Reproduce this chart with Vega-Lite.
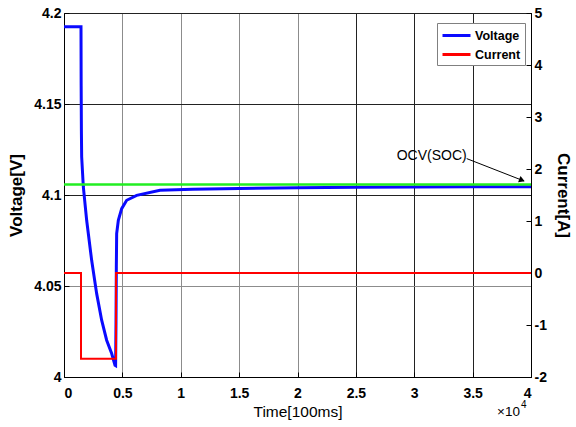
{
  "$schema": "https://vega.github.io/schema/vega-lite/v6.json",
  "width": 467,
  "height": 364,
  "autosize": {"type": "none"},
  "padding": {"left": 64, "top": 13, "right": 45, "bottom": 50},
  "background": "white",
  "config": {
    "view": {"stroke": "black", "strokeWidth": 1},
    "font": "Liberation Sans",
    "axis": {
      "domainColor": "black",
      "tickColor": "black",
      "labelColor": "black",
      "titleColor": "black",
      "labelFont": "Liberation Sans",
      "titleFont": "Liberation Sans",
      "labelFontSize": 14,
      "labelFontWeight": "bold",
      "titleFontSize": 17,
      "titleFontWeight": "bold",
      "tickSize": -5,
      "gridOpacity": 1,
      "gridWidth": 1
    },
    "legend": {
      "labelFont": "Liberation Sans",
      "labelFontSize": 12.5,
      "labelFontWeight": "bold",
      "labelColor": "black"
    }
  },
  "datasets": {
    "voltage": [
      {"t": 0, "v": 4.1925, "series": "Voltage"},
      {"t": 1456, "v": 4.1925, "series": "Voltage"},
      {"t": 1470, "v": 4.16, "series": "Voltage"},
      {"t": 1490, "v": 4.135, "series": "Voltage"},
      {"t": 1513, "v": 4.121, "series": "Voltage"},
      {"t": 1656, "v": 4.1044, "series": "Voltage"},
      {"t": 1941, "v": 4.0861, "series": "Voltage"},
      {"t": 2369, "v": 4.0641, "series": "Voltage"},
      {"t": 2798, "v": 4.0458, "series": "Voltage"},
      {"t": 3226, "v": 4.0312, "series": "Voltage"},
      {"t": 3654, "v": 4.0202, "series": "Voltage"},
      {"t": 4083, "v": 4.0129, "series": "Voltage"},
      {"t": 4369, "v": 4.0064, "series": "Voltage"},
      {"t": 4420, "v": 4.0062, "series": "Voltage"},
      {"t": 4454, "v": 4.03, "series": "Voltage"},
      {"t": 4483, "v": 4.0604, "series": "Voltage"},
      {"t": 4511, "v": 4.0788, "series": "Voltage"},
      {"t": 4654, "v": 4.0861, "series": "Voltage"},
      {"t": 4940, "v": 4.0925, "series": "Voltage"},
      {"t": 5368, "v": 4.0971, "series": "Voltage"},
      {"t": 6225, "v": 4.0998, "series": "Voltage"},
      {"t": 8223, "v": 4.1026, "series": "Voltage"},
      {"t": 11000, "v": 4.1032, "series": "Voltage"},
      {"t": 15000, "v": 4.1036, "series": "Voltage"},
      {"t": 20000, "v": 4.104, "series": "Voltage"},
      {"t": 25000, "v": 4.1042, "series": "Voltage"},
      {"t": 30000, "v": 4.1044, "series": "Voltage"},
      {"t": 35000, "v": 4.1045, "series": "Voltage"},
      {"t": 40000, "v": 4.1046, "series": "Voltage"}
    ],
    "current": [
      {"t": 0, "i": 0, "series": "Current"},
      {"t": 1456, "i": 0, "series": "Current"},
      {"t": 1456, "i": -1.65, "series": "Current"},
      {"t": 4454, "i": -1.65, "series": "Current"},
      {"t": 4454, "i": 0, "series": "Current"},
      {"t": 40000, "i": 0, "series": "Current"}
    ],
    "ocv": [
      {"t": 0, "v": 4.1058},
      {"t": 40000, "v": 4.1058}
    ],
    "arrow": [
      {"t": 34493, "v": 4.12, "t2": 39400, "v2": 4.1077}
    ],
    "arrowHead": [
      {"t": 39229, "v": 4.1081}
    ],
    "label": [
      {"t": 31494, "v": 4.12126, "text": "OCV(SOC)"}
    ],
    "exponent": [
      {"t": 39058, "v": 3.9787, "base": "×10", "power": "4"}
    ]
  },
  "layer": [
    {
      "layer": [
        {
          "data": {"name": "voltage"},
          "mark": {"type": "line", "strokeWidth": 3, "interpolate": "linear"},
          "encoding": {
            "x": {
              "field": "t",
              "type": "quantitative",
              "scale": {"domain": [0, 40000], "nice": false},
              "axis": {
                "title": "Time[100ms]",
                "titleFontWeight": "normal",
                "titleFontSize": 15.5,
                "values": [0, 5000, 10000, 15000, 20000, 25000, 30000, 35000, 40000],
                "labelExpr": "'' + datum.value / 10000",
                "labelPadding": 14,
                "titlePadding": 4,
                "grid": true,
                "gridColor": {"condition": {"test": "datum.value >= 25000", "value": "#222222"}, "value": "#8c8c8c"}
              }
            },
            "y": {
              "field": "v",
              "type": "quantitative",
              "scale": {"domain": [4, 4.2], "nice": false, "zero": false},
              "axis": {
                "title": "Voltage[V]",
                "orient": "left",
                "values": [4, 4.05, 4.1, 4.15, 4.2],
                "labelExpr": "'' + datum.value",
                "labelPadding": 8,
                "titlePadding": 8,
                "grid": true,
                "gridColor": {"condition": {"test": "datum.value >= 4.075", "value": "#222222"}, "value": "#8c8c8c"}
              }
            },
            "color": {
              "field": "series",
              "type": "nominal",
              "scale": {"domain": ["Voltage", "Current"], "range": ["#0a0aff", "#ff0000"]},
              "legend": {
                "title": null,
                "orient": "none",
                "legendX": 373,
                "legendY": 10,
                "symbolType": "M-1,0H3",
                "symbolSize": 196,
                "symbolStrokeWidth": 3,
                "strokeColor": "#808080",
                "fillColor": "white",
                "padding": 4,
                "rowPadding": 4,
                "labelOffset": 17
              }
            }
          }
        },
        {
          "data": {"name": "ocv"},
          "mark": {"type": "line", "color": "#22ee22", "strokeWidth": 2.5},
          "encoding": {
            "x": {"field": "t", "type": "quantitative"},
            "y": {"field": "v", "type": "quantitative"}
          }
        },
        {
          "data": {"name": "arrow"},
          "mark": {"type": "rule", "color": "black", "strokeWidth": 1},
          "encoding": {
            "x": {"field": "t", "type": "quantitative"},
            "y": {"field": "v", "type": "quantitative"},
            "x2": {"field": "t2"},
            "y2": {"field": "v2"}
          }
        },
        {
          "data": {"name": "arrowHead"},
          "mark": {"type": "point", "shape": "triangle-right", "filled": true, "color": "black", "size": 45, "angle": 21, "opacity": 1},
          "encoding": {
            "x": {"field": "t", "type": "quantitative"},
            "y": {"field": "v", "type": "quantitative"}
          }
        },
        {
          "data": {"name": "label"},
          "mark": {"type": "text", "fontSize": 14, "font": "Liberation Sans", "color": "black", "align": "center", "baseline": "middle"},
          "encoding": {
            "x": {"field": "t", "type": "quantitative"},
            "y": {"field": "v", "type": "quantitative"},
            "text": {"field": "text"}
          }
        },
        {
          "data": {"name": "exponent"},
          "mark": {"type": "text", "fontSize": 13.5, "font": "Liberation Sans", "color": "black", "align": "right", "baseline": "alphabetic"},
          "encoding": {
            "x": {"field": "t", "type": "quantitative"},
            "y": {"field": "v", "type": "quantitative"},
            "text": {"field": "base"}
          }
        },
        {
          "data": {"name": "exponent"},
          "mark": {"type": "text", "fontSize": 10, "font": "Liberation Sans", "color": "black", "align": "left", "baseline": "alphabetic", "dx": 1, "dy": -8},
          "encoding": {
            "x": {"field": "t", "type": "quantitative"},
            "y": {"field": "v", "type": "quantitative"},
            "text": {"field": "power"}
          }
        }
      ]
    },
    {
      "data": {"name": "current"},
      "mark": {"type": "line", "strokeWidth": 2},
      "encoding": {
        "x": {"field": "t", "type": "quantitative"},
        "y": {
          "field": "i",
          "type": "quantitative",
          "scale": {"domain": [-2, 5], "nice": false, "zero": false},
          "axis": {
            "title": "Current[A]",
            "orient": "right",
            "values": [-2, -1, 0, 1, 2, 3, 4, 5],
            "labelExpr": "'' + datum.value",
            "labelPadding": 8,
            "titlePadding": 7,
            "grid": false
          }
        },
        "color": {"field": "series", "type": "nominal", "legend": null}
      }
    }
  ],
  "resolve": {"scale": {"y": "independent"}}
}
